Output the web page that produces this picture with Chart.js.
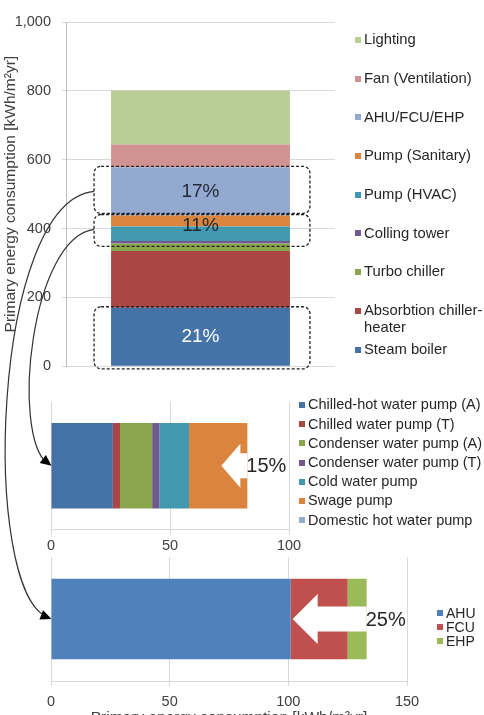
<!DOCTYPE html>
<html>
<head>
<meta charset="utf-8">
<script src="https://cdn.jsdelivr.net/npm/chart.js@4.4.1/dist/chart.umd.min.js"></script>
<style>
  body { margin: 0; width: 484px; height: 715px; overflow: hidden; position: relative; background: #fff;
         font-family: "Liberation Sans", Arial, sans-serif; color: #262626; }
  canvas { position: absolute; left: 0; }
  #overlay { top: 0; z-index: 5; pointer-events: none; }
  .lg { position: absolute; white-space: nowrap; }
  .lg i { position: absolute; left: 0; width: 6px; height: 6px; }
  .lg b { position: absolute; font-weight: normal; white-space: normal; }
</style>
</head>
<body>
<canvas id="mainChart" width="484" height="386" style="top:0"></canvas>
<canvas id="pumpChart" width="484" height="178" style="top:380px"></canvas>
<canvas id="airChart" width="484" height="190" style="top:550px"></canvas>
<canvas id="overlay" width="484" height="715"></canvas>
<div id="legends"></div>
<script>
// ---- data ----
const mainLabels = ['Steam boiler', 'Absorbtion chiller-heater', 'Turbo chiller', 'Colling tower',
  'Pump (HVAC)', 'Pump (Sanitary)', 'AHU/FCU/EHP', 'Fan (Ventilation)', 'Lighting'];
const mainValues = [170, 165, 22, 7, 42, 32, 140, 66, 156];
const mainTicks = [0, 200, 400, 600, 800, 1000];
// dataset index ranges wrapped by the dashed boxes, and their labels
const mainGroups = [[6, 6], [3, 5], [0, 0]];
const mainGroupPct = ['17%', '11%', '21%'];

const pumpLabels = ['Chilled-hot water pump (A)', 'Chilled water pump (T)', 'Condenser water pump (A)',
  'Condenser water pump  (T)', 'Cold water pump', 'Swage pump', 'Domestic hot water pump'];
const pumpValues = [26, 3, 13.5, 3, 12.5, 24.5, 0];
const pumpTicks = [0, 50, 100];
const pumpPct = '15%';

const airLabels = ['AHU', 'FCU', 'EHP'];
const airValues = [101, 24, 8];
const airTicks = [0, 50, 100, 150];
const airPct = '25%';

const axisTitle = 'Primary energy consumption [kWh/m²yr]';

// ---- colours ----
const mainColors = ['#4572a7', '#aa4643', '#89a54e', '#71588f', '#4198af', '#db843d', '#93a9cf', '#d19392', '#b9cd96'];
const pumpColors = ['#4572a7', '#aa4643', '#89a54e', '#71588f', '#4198af', '#db843d', '#93a9cf'];
const airColors = ['#4f81bd', '#c0504d', '#9bbb59'];

const FONT = '"Liberation Sans", Arial, sans-serif';
const TEXT = '#404040';
const GRID = '#d9d9d9';

// dashed boxes + percent labels on the big stacked bar
const mainPctPlugin = {
  id: 'mainPct',
  afterDatasetsDraw(chart) {
    const ctx = chart.ctx;
    ctx.save();
    mainGroups.forEach(([a, b], k) => {
      const lo = chart.getDatasetMeta(a).data[0];
      const hi = chart.getDatasetMeta(b).data[0];
      const top = hi.y, bottom = lo.base;
      const x1 = lo.x - lo.width / 2 - 17, x2 = lo.x + lo.width / 2 + 20;
      const y1 = top - 1, y2 = bottom + (k === 0 ? -2 : 3);
      ctx.setLineDash([3, 2]);
      ctx.lineWidth = 1.3;
      ctx.strokeStyle = '#222';
      ctx.beginPath();
      ctx.roundRect(x1, y1, x2 - x1, y2 - y1, 7);
      ctx.stroke();
      ctx.setLineDash([]);
      ctx.font = '19px ' + FONT;
      ctx.textAlign = 'center';
      ctx.textBaseline = 'middle';
      ctx.fillStyle = k === 2 ? '#fff' : '#1e2a38';
      ctx.fillText(mainGroupPct[k], lo.x, (top + bottom) / 2 + (k === 1 ? -4 : 0));
    });
    ctx.restore();
  }
};

// white arrow + percent at the end of a horizontal stacked bar
function arrowPlugin(pct, len, head, headH, shaftH) {
  return {
    id: 'arrowPct',
    afterDatasetsDraw(chart) {
      const n = chart.data.datasets.length;
      let end = 0, cy = 0;
      for (let i = 0; i < n; i++) {
        const el = chart.getDatasetMeta(i).data[0];
        if (el.x > end) { end = el.x; cy = el.y; }
      }
      const ctx = chart.ctx;
      const tx = end - len;
      ctx.save();
      ctx.fillStyle = '#fff';
      ctx.beginPath();
      ctx.moveTo(tx, cy);
      ctx.lineTo(tx + head, cy - headH);
      ctx.lineTo(tx + head, cy - shaftH);
      ctx.lineTo(end, cy - shaftH);
      ctx.lineTo(end, cy + shaftH);
      ctx.lineTo(tx + head, cy + shaftH);
      ctx.lineTo(tx + head, cy + headH);
      ctx.closePath();
      ctx.fill();
      ctx.fillStyle = '#262626';
      ctx.font = '20px ' + FONT;
      ctx.textAlign = 'left';
      ctx.textBaseline = 'middle';
      ctx.fillText(pct, end - 1, cy + 1);
      ctx.restore();
    }
  };
}

const mainChart = new Chart(document.getElementById('mainChart'), {
  type: 'bar',
  data: {
    labels: [''],
    datasets: mainLabels.map((l, i) => ({
      label: l, data: [mainValues[i]], backgroundColor: mainColors[i],
      barPercentage: 1, categoryPercentage: 0.665
    }))
  },
  options: {
    responsive: false,
    animation: false,
    layout: { padding: { top: 22, right: 149, bottom: 0, left: 0 } },
    plugins: { legend: { display: false }, tooltip: { enabled: false } },
    scales: {
      x: { stacked: true, display: false },
      y: {
        stacked: true, min: 0, max: 1000,
        afterBuildTicks: s => { s.ticks = mainTicks.map(v => ({ value: v })); },
        afterFit: s => { s.width = 66; },
        ticks: { callback: v => v.toLocaleString('en-US'), font: { size: 14.5, family: FONT }, color: TEXT, padding: 11 },
        grid: { color: GRID, tickLength: 4 },
        border: { color: '#bfbfbf' },
        title: { display: true, text: axisTitle, font: { size: 15.5, family: FONT }, color: TEXT, padding: { top: 1, bottom: 0 } }
      }
    }
  },
  plugins: [mainPctPlugin]
});

function hbar(id, labels, values, colors, ticks, max, pct, opts, extra) {
  return new Chart(document.getElementById(id), {
    type: 'bar',
    data: {
      labels: [''],
      datasets: labels.map((l, i) => ({
        label: l, data: [values[i]], backgroundColor: colors[i],
        barPercentage: 1, categoryPercentage: opts.cat
      }))
    },
    options: {
      indexAxis: 'y',
      responsive: false,
      animation: false,
      layout: { padding: opts.padding },
      plugins: { legend: { display: false }, tooltip: { enabled: false } },
      scales: {
        y: { stacked: true, display: false },
        x: Object.assign({
          stacked: true, min: 0, max: max,
          afterBuildTicks: s => { s.ticks = ticks.map(v => ({ value: v })); },
          ticks: { font: { size: 14.5, family: FONT }, color: TEXT, padding: opts.tickPad, maxRotation: 0 },
          grid: { color: GRID, tickLength: 5 },
          border: { color: GRID }
        }, extra)
      }
    },
    plugins: [arrowPlugin(pct, opts.len, opts.head, opts.headH, opts.shaftH)]
  });
}

const pumpChart = hbar('pumpChart', pumpLabels, pumpValues, pumpColors, pumpTicks, 100, pumpPct,
  { cat: 0.67, tickPad: 3, padding: { top: 22, right: 195, bottom: 0, left: 51 }, len: 26, head: 19, headH: 22, shaftH: 12.5 }, {});

const airChart = hbar('airChart', airLabels, airValues, airColors, airTicks, 150, airPct,
  { cat: 0.65, tickPad: 7, padding: { top: 7, right: 77, bottom: 13, left: 51 }, len: 74, head: 25, headH: 25, shaftH: 12.5 },
  { title: { display: true, text: axisTitle, font: { size: 15.5, family: FONT }, color: TEXT, padding: { top: -9, bottom: 0 } } });

// ---- html legends ----
function legend(labels, colors, left, top, step, size, reverse) {
  const box = document.getElementById('legends');
  const order = labels.map((l, i) => i);
  if (reverse) order.reverse();
  order.forEach((i, k) => {
    const d = document.createElement('div');
    d.className = 'lg';
    d.style.left = left + 'px';
    d.style.top = (top + k * step - size * 0.6) + 'px';
    d.style.fontSize = size + 'px';
    d.style.lineHeight = (size * 1.15) + 'px';
    d.innerHTML = '<i style="background:' + colors[i] + ';top:' + (size * 0.6 - 3) + 'px"></i>' +
      '<b style="left:9px;width:' + (484 - left - 4) + 'px">' + labels[i] + '</b>';
    box.appendChild(d);
  });
}
legend(mainLabels, mainColors, 355, 40, 38.7, 14.8, true);
legend(pumpLabels, pumpColors, 299, 405, 19.2, 14.5, false);
legend(airLabels, airColors, 437, 613, 14, 14, false);

// ---- curved connectors between the charts ----
const ov = document.getElementById('overlay').getContext('2d');
function barLeft(chart, offset) {
  const el = chart.getDatasetMeta(0).data[0];
  return { x: el.base, y: el.y + offset };
}
function boxLeft(chart, group) {
  const lo = chart.getDatasetMeta(group[0]).data[0];
  const hi = chart.getDatasetMeta(group[1]).data[0];
  return { x: lo.x - lo.width / 2 - 17, y: (hi.y + lo.base) / 2 };
}
function connector(s, e, c1, c2) {
  const p1 = { x: s.x + c1[0], y: s.y + c1[1] };
  const p2 = { x: e.x + c2[0], y: e.y + c2[1] };
  ov.save();
  ov.strokeStyle = '#333';
  ov.lineWidth = 1.2;
  ov.beginPath();
  ov.moveTo(s.x, s.y);
  ov.bezierCurveTo(p1.x, p1.y, p2.x, p2.y, e.x - 4, e.y - 2);
  ov.stroke();
  const a = Math.atan2(e.y - p2.y, e.x - p2.x);
  ov.fillStyle = '#000';
  ov.beginPath();
  ov.moveTo(e.x, e.y);
  ov.lineTo(e.x - 11 * Math.cos(a) + 5 * Math.sin(a), e.y - 11 * Math.sin(a) - 5 * Math.cos(a));
  ov.lineTo(e.x - 11 * Math.cos(a) - 5 * Math.sin(a), e.y - 11 * Math.sin(a) + 5 * Math.cos(a));
  ov.closePath();
  ov.fill();
  ov.restore();
}
// 17% box -> AHU/FCU/EHP chart, 11% box -> pump chart
connector(boxLeft(mainChart, mainGroups[0]), barLeft(airChart, 550), [-103, 10], [-71, -28]);
connector(boxLeft(mainChart, mainGroups[1]), barLeft(pumpChart, 380), [-63, 8], [-41, -32]);
</script>
</body>
</html>
